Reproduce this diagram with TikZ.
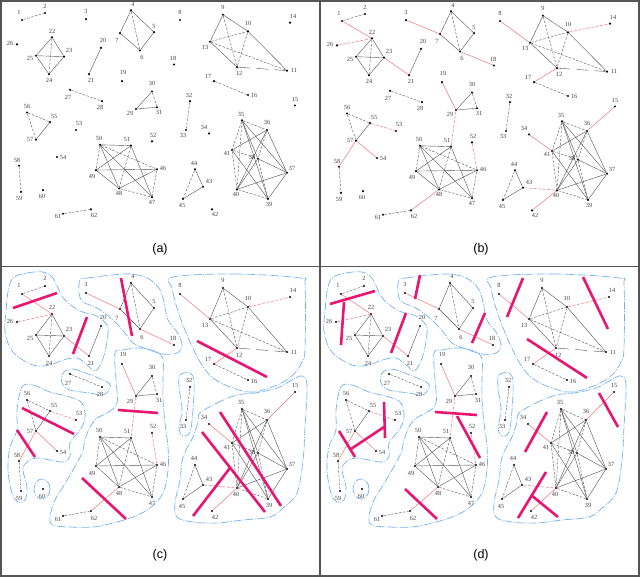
\documentclass[tikz,border=0pt]{standalone}
\usepackage{fontspec}
\setmainfont{Liberation Serif}
\newfontfamily\capfont{Liberation Sans}
\definecolor{hullblue}{RGB}{115,178,238}
\definecolor{cutmag}{RGB}{232,22,112}
\definecolor{redge}{RGB}{240,118,118}
\definecolor{framegray}{RGB}{85,85,85}
\definecolor{edgegray}{RGB}{80,80,80}
\pgfdeclarelayer{backlayer}
\pgfdeclarelayer{edgelayer}
\pgfsetlayers{backlayer,edgelayer,main}
\newcommand\mynodes{%
\foreach \n/\x/\y/\lx/\ly in {1/22/294/19/285,2/45/286/45/278,26/17/322/10/321,22/52/314/52/307,25/36/335/30/338,23/64/336/69/329,24/49/356/49/363,20/101/326/103/317,21/89/356/91/363,3/86/293/86/284,4/131/283/133/276,5/154/308/154/301,7/120/309/117/318,6/140/329/142/337,18/174/345/173/338,8/180/294/180/285,9/223/288/223/280,10/248/307/248/298,14/290/297/293/290,13/210/319/205/325,12/237/348/239/355,11/287/352/294/352,17/214/364/208/359,16/248/380/254/381,19/122/364/123/354,30/152/376/152/367,29/136/396/130/401,31/157/394/159/400,27/70/374/68/383,28/102/387/100/394,32/190/387/189/380,15/295/392/295/385,56/27/400/27/393,55/50/411/54/405,53/76/420/79/413,57/36/431/30/431,54/57/451/63/452,58/19/461/17/455,59/21/491/19/498,60/43/489/42/496,33/186/420/183/426,50/100/437/99/430,51/131/438/127/431,52/152/433/153/426,49/96/466/92/473,46/157/465/163/464,48/119/487/119/493,47/152/497/152/503,61/63/516/58/519,62/91/511/94/518,34/209/424/204/417,35/242/409/241/402,36/267/420/267/411,41/232/443/227/447,38/258/453/252/452,37/287/469/292/464,40/237/488/236/494,39/268/499/269/505,44/195/465/194/458,43/203/485/209/479,45/183/499/182/506,42/212/511/215/517}{%
\node[dot] (n\n) at (\x,\y) {};
\node[lab] (l\n) at (\lx,\ly) {\n};
}}
\newcommand\myblack{%
\begin{pgfonlayer}{edgelayer}
\foreach \u/\v in {22/25,22/23,25/24,23/24,25/23,20/21,4/5,4/7,7/6,5/6,9/13,9/10,13/12,10/11,30/29,29/31,55/57,50/51,50/48,50/47,51/49,51/47,49/48,49/46,48/46,44/43,45/43,35/38,35/37,35/39,36/41,36/37,36/40,41/39,38/37,38/40,37/40,37/39}{\draw[se] (n\u) -- (n\v);}
\foreach \u/\v in {1/2,22/24,4/6,9/12,13/10,10/12,13/11,17/16,27/28,30/31,32/33,56/55,56/57,58/59,61/62,50/49,50/46,51/48,48/47,46/47,44/45,35/36,35/41,35/40,36/38,41/40,38/39,40/39,41/38}{\draw[de] (n\u) -- (n\v);}
\draw[le] (n12) -- (n11);
\end{pgfonlayer}}
\newcommand\myred{%
\begin{pgfonlayer}{edgelayer}
\foreach \u/\v in {1/22,23/21,3/7,6/18,8/13,12/17,19/29,36/15,57/58,57/54,34/41,48/62,40/42}{\draw[rs] (n\u) -- (n\v);}
\foreach \u/\v in {26/22,10/14,29/51,55/53,52/46,43/40}{\draw[rd] (n\u) -- (n\v);}
\end{pgfonlayer}}
\newcommand\myhulls{%
\begin{pgfonlayer}{backlayer}
\draw[hull] plot[smooth cycle, tension=0.6] coordinates {(13,278) (27,273) (43,272) (53,278) (58,288) (65,300) (80,311) (97,316) (107,325) (108,333) (105,352) (100,365) (95,371) (87,365) (77,358) (63,360) (50,365) (33,365) (13,352) (5,332) (6,312) (8,292)};
\draw[hull] plot[smooth cycle, tension=0.6] coordinates {(80,280) (87,278) (127,274) (147,278) (158,287) (163,298) (168,320) (177,332) (182,345) (177,353) (163,354) (147,349) (133,343) (125,333) (113,320) (97,308) (83,302) (79,293)};
\draw[hull] plot[smooth cycle, tension=0.6] coordinates {(173,277) (235,274) (300,278) (305,285) (305,348) (302,362) (293,375) (277,385) (253,392) (233,388) (213,378) (200,362) (187,335) (177,308) (172,288)};
\draw[hull] plot[smooth cycle, tension=0.6] coordinates {(63,373) (72,369) (83,372) (107,382) (110,388) (103,395) (90,393) (70,390) (62,383)};
\draw[hull] plot[smooth cycle, tension=0.6] coordinates {(115,353) (123,350) (140,348) (157,352) (163,360) (163,380) (163,400) (165,423) (168,447) (168,470) (163,493) (150,508) (133,517) (113,523) (93,527) (70,527) (53,525) (50,517) (55,500) (63,487) (73,470) (82,453) (85,440) (90,427) (97,418) (107,413) (117,403) (116,380)};
\draw[hull] plot[smooth cycle, tension=0.6] coordinates {(22,387) (33,385) (50,392) (70,397) (82,403) (85,418) (80,430) (70,443) (70,457) (63,462) (50,460) (37,458) (27,462) (23,470) (27,487) (25,500) (18,502) (12,493) (8,470) (10,447) (17,430) (17,410)};
\draw[hull] (42,489) ellipse [x radius=8, y radius=10];
\draw[hull] plot[smooth cycle, tension=0.6] coordinates {(180,375) (190,373) (194,382) (193,410) (190,432) (183,436) (179,428) (182,410) (179,387)};
\draw[hull] plot[smooth cycle, tension=0.6] coordinates {(200,413) (217,403) (237,395) (255,393) (277,388) (292,380) (302,376) (307,385) (305,427) (303,460) (297,493) (283,508) (270,517) (243,520) (217,523) (193,522) (177,517) (175,503) (180,480) (183,457) (193,437) (198,422)};
\end{pgfonlayer}}
\begin{document}
\begin{tikzpicture}[x=1pt,y=-1pt,
  dot/.style={circle,fill=black,inner sep=0pt,minimum size=2.4pt},
  lab/.style={font=\fontsize{6.3}{6.3}\selectfont,text=black!75,inner sep=0pt},
  se/.style={draw=edgegray,line width=0.4pt},
  de/.style={draw=edgegray,line width=0.4pt,dash pattern=on 2.5pt off 1.5pt},
  le/.style={draw=edgegray,line width=0.4pt,dash pattern=on 12pt off 6pt},
  rs/.style={draw=redge,line width=0.5pt},
  rd/.style={draw=redge,line width=0.5pt,dash pattern=on 3pt off 1.5pt},
  hull/.style={draw=hullblue,line width=0.7pt,dash pattern=on 8pt off 1.5pt on 1pt off 1.5pt},
  cutline/.style={draw=cutmag,line width=2.6pt},
  capt/.style={font=\capfont\fontsize{12.5}{12.5}\selectfont,inner sep=0pt}]
\useasboundingbox (0,0) rectangle (640,577);
\begin{pgfonlayer}{backlayer}
\fill[white] (0,0) rectangle (640,577);
\end{pgfonlayer}
% panel (a)
\begin{scope}[name prefix=a-, yshift=236.7pt, yscale=0.873]
\mynodes
\myblack
\end{scope}
% panel (b)
\begin{scope}[name prefix=b-, xshift=320pt, yshift=235.7pt, yscale=0.873]
\mynodes
\myblack
\myred
\end{scope}
% panel (c)
\begin{scope}[name prefix=c-]
\myhulls
\mynodes
\myblack
\myred
\foreach \p/\q in {{(13,308)}/{(57,293)},{(73,354)}/{(87,317)},{(121,278)}/{(132,336)},{(197,341)}/{(267,377)},{(118,410)}/{(158,413)},{(22,408)}/{(74,434)},{(17,430)}/{(35,457)},{(82,478)}/{(126,519)},{(220,412)}/{(281,506)},{(202,432)}/{(265,512)},{(193,516)}/{(230,468)}}{\draw[cutline] \p -- \q;}
\end{scope}
% panel (d)
\begin{scope}[name prefix=d-, xshift=319pt]
\myhulls
\mynodes
\myblack
\myred
\end{scope}
\foreach \p/\q in {{(330,304)}/{(375,291)},{(344,302)}/{(341,345)},{(391,353)}/{(406,313)},{(415,299)}/{(420,275)},{(472,343)}/{(485,313)},{(507,317)}/{(523,278)},{(583,277)}/{(608,329)},{(527,339)}/{(587,378)},{(599,393)}/{(618,427)},{(384,402)}/{(385,438)},{(351,449)}/{(384,427)},{(339,431)}/{(355,457)},{(435,412)}/{(477,415)},{(457,416)}/{(480,458)},{(405,489)}/{(437,519)},{(525,452)}/{(547,412)},{(518,518)}/{(546,472)},{(531,495)}/{(558,517)}}{\draw[cutline] \p -- \q;}
% captions
\node[capt] (ca) at (160,249) {(a)};
\node[capt] (cb) at (481,249) {(b)};
\node[capt] (cc) at (160,555) {(c)};
\node[capt] (cd) at (481,555) {(d)};
% frame
\draw[framegray,line width=1.6pt] (0.8,0.8) rectangle (639.2,576.2);
\draw[framegray,line width=1.8pt] (320,0) -- (320,577);
\draw[framegray,line width=1.8pt] (0,266.5) -- (640,266.5);
\end{tikzpicture}
\end{document}
